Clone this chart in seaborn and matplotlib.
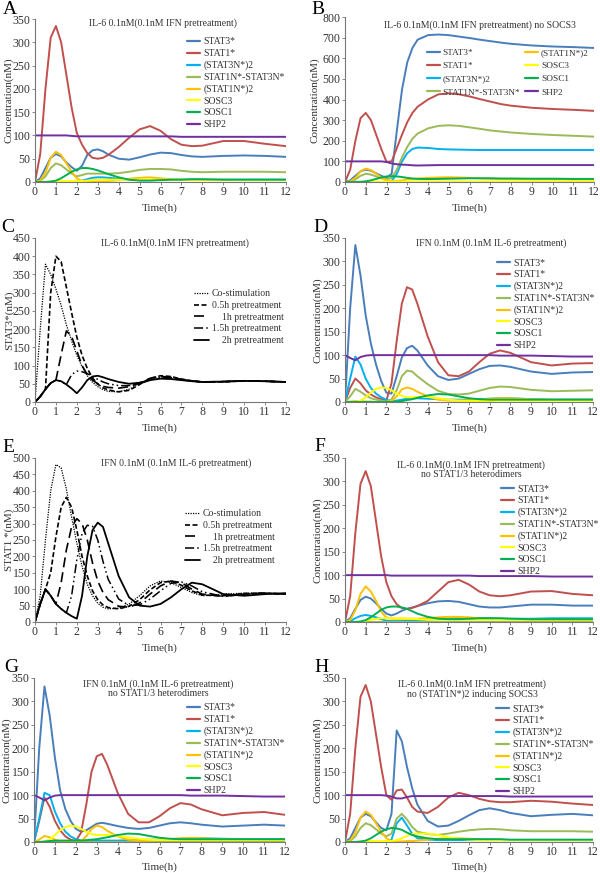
import matplotlib
matplotlib.use('Agg')
import matplotlib.pyplot as plt
import seaborn as sns
from matplotlib.lines import Line2D

sns.set_style('ticks')
plt.rcParams['font.family'] = ['Liberation Serif', 'DejaVu Serif']

# ---------------- data ----------------
T = [0, 0.25, 0.5, 0.75, 1, 1.25, 1.5, 1.75, 2, 2.25, 2.5, 2.75, 3, 3.25, 3.5,
     4, 4.5, 5, 5.5, 6, 6.5, 7, 7.5, 8, 9, 10, 11, 12]

species = ['STAT3*', 'STAT1*', '(STAT3N*)2', 'STAT1N*-STAT3N*', '(STAT1N*)2', 'SOSC3', 'SOSC1', 'SHP2']
pretreat_labels = ['Co-stimulation', '0.5h pretreatment', '1h pretreatment', '1.5h pretreatment', '2h pretreatment']

# Panel A
a_stat3 = [0,8,30,52, 60,55,42,32, 24,35,58,68, 70,66,59, 50,48,53,59,63,62,58,55,54, 56,57,56,54]
a_stat1 = [0,60,200,310, 335,300,230,160, 105,80,62,52, 50,52,58, 75,95,113,120,110,92,80,77,78, 88,88,82,77]
a_s3n2 = [0,0,0,0, 0,0,0,0, 1,3,6,9, 10,10,9, 7,5,4,4,5,5,5,5,5, 5,5,5,5]
a_het = [0,2,12,30, 40,36,27,18, 12,15,18,18, 18,18,18, 19,22,26,28,28,27,24,22,21, 22,22,22,21]
a_s1n2 = [0,3,20,52, 65,58,40,22, 8,2,1,1, 1,1,2, 4,7,9,10,8,6,5,4,4, 4,4,4,4]
a_socs3 = [0,0,0,1, 2,2,2,2, 2,2,3,4, 4,5,5, 5,5,5,5,5,5,5,5,5, 5,4,4,4]
a_socs1 = [0,0,0,1, 3,8,15,22, 27,30,30,28, 25,21,17, 10,5,3,3,4,5,5,6,6, 5,5,5,5]
a_shp2 = [100,100,100,100, 100,100,100,99, 98,98,98,98, 98,98,98, 98,98,98,98,98,98,97,97,97, 97,97,97,97]

# Panel B
b_stat3 = [0,8,30,52, 60,55,42,30, 20,40,250,450, 580,650,690, 712,715,712,705,698,690,683,676,670, 662,657,654,650]
b_stat1 = [0,60,200,310, 335,300,230,160, 98,100,165,230, 290,335,365, 400,425,430,425,415,402,390,378,370, 360,354,350,345]
b_s3n2 = [0,0,0,0, 0,0,0,0, 1,5,40,100, 140,160,167, 165,160,158,157,156,155,155,155,155, 155,155,155,155]
b_het = [0,2,12,30, 40,36,27,18, 12,20,60,120, 170,210,235, 260,272,275,272,265,258,250,245,240, 233,228,224,220]
b_s1n2 = [0,3,20,52, 65,58,40,22, 8,4,5,8, 12,15,17, 20,22,23,22,20,18,16,15,14, 13,13,12,12]
b_socs3 = [0,0,0,1, 1,1,1,1, 2,2,2,2, 2,2,2, 2,2,2,2,2,2,2,2,2, 2,2,2,2]
b_socs1 = [0,0,0,1, 3,8,15,22, 27,28,27,24, 20,17,15, 14,15,16,17,18,18,18,17,17, 16,16,15,15]
b_shp2 = [100,100,100,100, 100,100,100,100, 97,90,86,84, 83,81,80, 81,82,82,82,82,82,82,82,82, 82,82,82,82]

# Panel C (STAT3*)
c_co = [0,200,378,350, 310,265,212,168, 128,97,72,54, 42,34,29, 28,35,50,62,66,64,60,57,55, 56,58,57,55]
c_05 = [0,15,35,300, 400,385,315,245, 178,128,92,66, 49,39,33, 28,32,48,65,72,70,63,58,55, 55,58,57,55]
c_1h = [0,15,35,52, 60,130,195,180, 140,100,75,60, 50,43,40, 38,42,52,65,70,68,62,58,55, 56,58,57,55]
c_15h = [0,15,35,52, 60,57,48,75, 85,83,78,70, 62,55,50, 45,45,50,60,67,67,62,58,55, 56,58,57,55]
c_2h = [0,15,35,52, 60,57,48,37, 24,40,60,70, 72,68,63, 55,50,53,60,64,63,60,57,55, 56,58,57,55]

# Panel D
d_stat3 = [0,200,335,270, 185,125,80,45, 20,18,55,95, 115,120,110, 78,55,47,50,60,70,77,78,75, 65,60,63,64]
d_stat1 = [0,30,50,40, 25,16,10,6, 3,40,130,210, 245,240,210, 140,85,57,55,65,85,103,110,105, 85,78,82,83]
d_s3n2 = [0,50,97,80, 50,30,18,10, 5,2,3,5, 7,8,8, 7,6,5,5,5,6,7,8,8, 6,5,5,5]
d_het = [0,12,28,22, 14,8,5,3, 1,5,25,55, 67,65,55, 38,24,17,16,18,24,30,33,32, 26,23,24,25]
d_s1n2 = [0,1,2,2, 1,1,0,0, 0,2,12,27, 31,28,22, 12,5,3,3,4,5,7,8,8, 6,5,5,5]
d_socs3 = [0,0,0,3, 10,20,28,31, 30,25,18,13, 10,10,11, 11,8,5,3,2,2,2,3,3, 3,3,3,3]
d_socs1 = [0,0,0,0, 0,0,0,0, 0,0,1,2, 4,6,9, 14,17,16,12,8,6,5,5,5, 5,5,5,5]
d_shp2 = [100,94,89,96, 99,100,100,100, 100,100,100,100, 100,100,100, 100,100,100,100,100,100,100,99,99, 99,98,97,97]

# Panel E (STAT1*)
e_co = [0,80,250,400, 480,470,405,320, 240,170,115,80, 57,45,40, 42,55,80,110,125,120,105,90,80, 85,88,88,85]
e_05 = [0,55,100,150, 260,350,380,350, 280,200,140,95, 68,52,44, 40,48,68,98,120,125,112,95,82, 80,87,88,85]
e_1h = [0,55,100,80, 55,120,220,290, 315,300,250,180, 125,90,68, 48,45,58,85,110,125,120,100,85, 78,85,88,85]
e_15h = [0,55,100,80, 55,40,28,80, 190,270,295,292, 250,185,130, 70,50,52,70,95,118,122,110,92, 78,84,88,85]
e_2h = [0,55,100,80, 55,40,28,18, 10,80,200,280, 303,290,240, 140,75,50,47,55,75,100,120,115, 85,80,85,88]

# Panel F
f_stat3 = [0,8,28,47, 54,50,40,28, 18,14,18,24, 28,31,34, 40,44,45,43,38,33,31,31,33, 37,37,35,35]
f_stat1 = [0,55,190,295, 322,290,215,140, 85,55,38,30, 28,30,34, 45,65,85,90,80,65,57,55,57, 65,66,60,57]
f_s3n2 = [0,2,8,13, 15,13,10,6, 3,2,2,2, 3,3,4, 5,6,7,8,8,8,8,7,7, 7,8,8,8]
f_het = [0,0,0,0, 0,0,0,0, 0,0,0,0, 0,0,0, 0,0,0,0,0,0,0,0,0, 0,0,0,0]
f_s1n2 = [0,4,25,60, 76,65,45,22, 10,7,7,7, 7,7,7, 8,10,11,11,10,8,7,6,6, 5,5,5,5]
f_socs3 = [0,0,0,1, 3,5,7,8, 8,8,8,8, 7,7,6, 5,5,5,5,5,5,5,5,5, 5,5,5,5]
f_socs1 = [0,0,0,1, 4,10,18,26, 31,33,33,31, 28,23,18, 11,7,6,6,7,8,8,8,7, 6,6,6,6]
f_shp2 = [100,100,100,100, 100,100,100,100, 100,99,99,99, 99,99,99, 99,99,99,99,99,98,98,98,98, 98,97,97,97]

# Panel G
g_stat3 = [0,200,332,270, 180,110,70,45, 28,22,25,32, 39,41,39, 34,30,28,30,35,40,42,40,37, 33,35,37,35]
g_stat1 = [0,45,95,75, 45,25,12,5, 2,20,80,150, 183,188,165, 105,60,42,42,55,72,83,80,70, 57,62,64,58]
g_s3n2 = [0,50,105,100, 65,40,22,12, 6,3,2,2, 3,3,3, 3,4,4,5,5,6,7,8,8, 7,6,6,6]
g_het = [0,0,0,0, 0,0,0,0, 0,0,0,0, 0,0,0, 0,0,0,0,0,0,0,0,0, 0,0,0,0]
g_s1n2 = [0,5,13,10, 5,2,1,0, 0,2,12,28, 35,32,24, 12,5,3,3,4,6,8,9,8, 6,5,5,5]
g_socs3 = [0,0,1,5, 15,25,32,35, 33,28,22,17, 15,15,15, 13,10,7,5,4,4,4,4,4, 4,4,4,4]
g_socs1 = [0,0,1,2, 3,3,3,3, 3,3,4,5, 6,8,10, 15,18,17,13,9,7,6,6,6, 6,6,6,6]
g_shp2 = [100,95,89,95, 99,100,100,100, 100,100,100,100, 100,100,100, 100,100,100,100,100,100,100,99,99, 99,98,97,97]

# Panel H
h_stat3 = [0,8,30,52, 60,55,42,30, 25,60,238,215, 160,115,80, 45,33,35,45,57,68,72,68,62, 55,58,60,57]
h_stat1 = [0,60,200,310, 335,300,230,160, 100,90,110,112, 95,75,65, 62,75,95,105,100,92,87,85,85, 88,86,82,79]
h_s3n2 = [0,0,0,0, 0,0,0,0, 1,5,40,52, 35,18,8, 5,4,4,4,4,4,4,4,4, 4,4,4,4]
h_het = [0,2,12,30, 40,36,27,18, 12,18,50,60, 48,32,22, 17,15,18,22,25,27,28,27,25, 23,23,23,22]
h_s1n2 = [0,3,20,52, 65,58,40,22, 8,2,1,1, 2,2,3, 5,7,8,8,7,6,5,5,4, 4,4,4,4]
h_socs3 = [0,0,0,1, 2,2,2,2, 2,2,4,8, 13,17,18, 18,15,10,7,5,4,4,4,4, 4,4,4,4]
h_socs1 = [0,0,0,1, 3,8,15,22, 27,30,29,26, 20,15,12, 8,6,6,6,6,6,6,6,5, 5,5,5,5]
h_shp2 = [100,100,100,100, 100,100,100,100, 99,97,93,93, 96,98,98, 98,98,98,98,98,98,98,98,97, 97,97,97,97]

# ---------------- style ----------------
colors = ['#4A7EBB', '#C0504D', '#00B0F0', '#9BBB59', '#FFC000', '#FFFF00', '#00B050', '#7030A0']
bw_styles = [dict(linestyle=(0, (1, 1)), linewidth=0.9),
             dict(linestyle=(0, (3, 1.5)), linewidth=1.2),
             dict(linestyle=(0, (6, 3)), linewidth=1.2),
             dict(linestyle=(0, (6, 2, 1, 2, 1, 2)), linewidth=1.1),
             dict(linestyle='-', linewidth=1.3)]

W, H = 600, 873
fig = plt.figure(figsize=(6, 8.73), dpi=100)
TXT = '#333333'
FS = 7
TICK_FS = 8.5


def px(x, y):
    return (x / W, 1 - y / H)


def make_ax(x0, x1, yt, yb, ymax, ystep):
    ax = fig.add_axes([x0 / W, 1 - yb / H, (x1 - x0) / W, (yb - yt) / H])
    ax.set_xlim(0, 12)
    ax.set_ylim(0, ymax)
    ax.set_xticks(range(0, 13))
    ax.set_yticks(range(0, ymax + 1, ystep))
    for s in ['top', 'right']:
        ax.spines[s].set_visible(False)
    for s in ['left', 'bottom']:
        ax.spines[s].set_color('#777777')
        ax.spines[s].set_linewidth(0.8)
    ax.tick_params(axis='both', length=2, width=0.6, color='#777777', labelsize=TICK_FS,
                   labelcolor=TXT, pad=1.2)
    ax.set_xlabel('')
    ax.set_ylabel('')
    return ax


def color_panel(ax, series):
    handles = []
    for vals, c, lab in zip(series, colors, species):
        sns.lineplot(x=T, y=vals, ax=ax, color=c, linewidth=1.4, legend=False,
                     estimator=None, sort=False)
        handles.append(Line2D([], [], color=c, linewidth=1.6, label=lab))
    return handles


def bw_panel(ax, series):
    handles = []
    for vals, st, lab in zip(series, bw_styles, pretreat_labels):
        sns.lineplot(x=T, y=vals, ax=ax, color='black', legend=False,
                     estimator=None, sort=False, **st)
        handles.append(Line2D([], [], color='black', label=lab, **st))
    return handles


def legend(ax, handles, labels, x, y1, ncol=1, hl=1.35, colsp=1.0, fs=FS, ls=0.27):
    ax.legend(handles, labels, loc='upper left', bbox_to_anchor=px(x, y1 - 4.5),
              bbox_transform=fig.transFigure, frameon=False, fontsize=fs,
              borderpad=0, borderaxespad=0, handlelength=hl, handletextpad=0.35,
              labelspacing=ls, ncol=ncol, columnspacing=colsp,
              labelcolor=TXT)


def title(x, y, s):
    fig.text(*px(x, y), s, ha='center', va='center', fontsize=FS, color=TXT)


def letter(x, y, s):
    fig.text(*px(x, y), s, ha='center', va='center', fontsize=14, color='black')


def ylab(x, yc, s):
    fig.text(*px(x, yc), s, ha='center', va='center', rotation=90, fontsize=8, color=TXT)


def xlab(xc, y):
    fig.text(*px(xc, y), 'Time(h)', ha='center', va='center', fontsize=8, color=TXT)


# ---- A
axA = make_ax(35, 286, 19, 182, 350, 50)
hA = color_panel(axA, [a_stat3, a_stat1, a_s3n2, a_het, a_s1n2, a_socs3, a_socs1, a_shp2])
legend(axA, hA, species, 187, 42)
title(163, 23, 'IL-6 0.1nM(0.1nM IFN pretreatment)')
letter(10, 10, 'A')
ylab(9, 100, 'Concentration(nM)')
xlab(160, 208)

# ---- B
axB = make_ax(345, 594, 17, 182, 800, 100)
hB = color_panel(axB, [b_stat3, b_stat1, b_s3n2, b_het, b_s1n2, b_socs3, b_socs1, b_shp2])
legend(axB, hB, species, 427, 53, ncol=2, colsp=0.5, fs=6.7, ls=0.5)
title(480, 25, 'IL-6 0.1nM(0.1nM IFN pretreatment) no SOCS3')
letter(318, 9, 'B')
ylab(315, 100, 'Concentration(nM)')
xlab(470, 208)

# ---- C
axC = make_ax(35, 286, 238, 402, 450, 50)
hC = bw_panel(axC, [c_co, c_05, c_1h, c_15h, c_2h])
c_labels = ['Co-stimulation', '0.5h pretreatment', '    1h pretreatment', '1.5h pretreatment', '    2h pretreatment']
legend(axC, hC, c_labels, 194, 294, hl=1.5)
title(175, 243, 'IL-6 0.1nM(0.1nM IFN pretreatment)')
letter(8, 228, 'C')
ylab(9, 320, 'STAT3*(nM)')
xlab(160, 428)

# ---- D
axD = make_ax(345, 593, 238, 402, 350, 50)
hD = color_panel(axD, [d_stat3, d_stat1, d_s3n2, d_het, d_s1n2, d_socs3, d_socs1, d_shp2])
legend(axD, hD, species, 497, 263)
title(491, 243, 'IFN 0.1nM (0.1nM IL-6 pretreatment)')
letter(320, 228, 'D')
ylab(318, 320, 'Concentration(nM)')
xlab(470, 428)

# ---- E
axE = make_ax(35, 286, 458, 622, 500, 50)
hE = bw_panel(axE, [e_co, e_05, e_1h, e_15h, e_2h])
legend(axE, hE, c_labels, 185, 514, hl=1.5)
title(176, 463, 'IFN 0.1nM (0.1nM IL-6 pretreatment)')
letter(8, 448, 'E')
ylab(9, 540, 'STAT1 *(nM)')
xlab(160, 648)

# ---- F
axF = make_ax(345, 593, 458, 622, 350, 50)
hF = color_panel(axF, [f_stat3, f_stat1, f_s3n2, f_het, f_s1n2, f_socs3, f_socs1, f_shp2])
legend(axF, hF, species, 501, 489)
title(471, 465, 'IL-6 0.1nM(0.1nM IFN pretreatment)')
title(471, 475, 'no STAT1/3 heterodimers')
letter(320, 447, 'F')
ylab(318, 540, 'Concentration(nM)')
xlab(470, 648)

# ---- G
axG = make_ax(34, 285, 678, 842, 350, 50)
hG = color_panel(axG, [g_stat3, g_stat1, g_s3n2, g_het, g_s1n2, g_socs3, g_socs1, g_shp2])
legend(axG, hG, species, 187, 708)
title(158, 684, 'IFN 0.1nM (0.1nM IL-6 pretreatment)')
title(158, 694, 'no STAT1/3 heterodimers')
letter(11, 668, 'G')
ylab(7, 760, 'Concentration(nM)')
xlab(160, 867)

# ---- H
axH = make_ax(345, 593, 678, 842, 350, 50)
hH = color_panel(axH, [h_stat3, h_stat1, h_s3n2, h_het, h_s1n2, h_socs3, h_socs1, h_shp2])
legend(axH, hH, species, 496, 709)
title(472, 684, 'IL-6 0.1nM(0.1nM IFN pretreatment)')
title(472, 694, 'no (STAT1N*)2 inducing SOCS3')
letter(322, 668, 'H')
ylab(318, 760, 'Concentration(nM)')
xlab(470, 867)

fig.savefig('out.png', dpi=100, facecolor='white')
